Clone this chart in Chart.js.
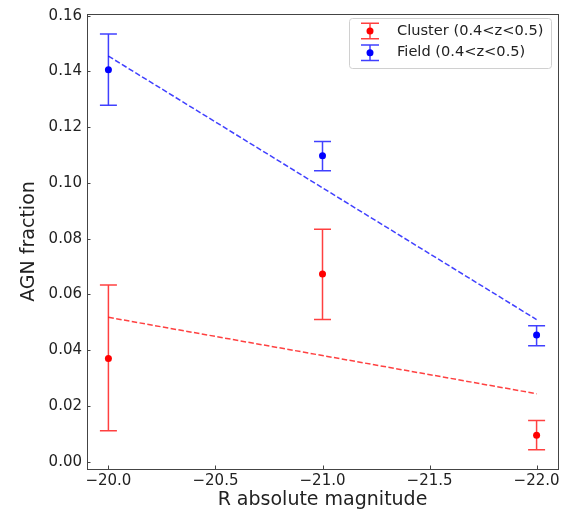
<!DOCTYPE html>
<html>
<head>
<meta charset="utf-8">
<script src="https://cdn.jsdelivr.net/npm/chart.js@4.4.0/dist/chart.umd.min.js"></script>
<style>
html, body { margin: 0; padding: 0; background: #fff; }
</style>
</head>
<body>
<canvas id="chart" width="575" height="513"></canvas>
<script>
// values
const magnitudes = [-20.0, -21.0, -22.0];

const clusterFrac = [0.0370, 0.0673, 0.0095];
const clusterLow  = [0.0111, 0.0510, 0.0043];
const clusterHigh = [0.0634, 0.0834, 0.0148];

const fieldFrac = [0.1406, 0.1098, 0.0455];
const fieldLow  = [0.1279, 0.1044, 0.0416];
const fieldHigh = [0.1534, 0.1149, 0.0488];

// fitted lines, at the two ends
const fitX = [-20.0, -22.0];
const clusterFit = [0.0518, 0.0244];
const fieldFit = [0.1455, 0.0510];

const xTicks = [-20.0, -20.5, -21.0, -21.5, -22.0];
const yTicks = [0.00, 0.02, 0.04, 0.06, 0.08, 0.10, 0.12, 0.14, 0.16];

const labels = ['Cluster (0.4<z<0.5)', 'Field (0.4<z<0.5)'];

const FONT = 'DejaVu Sans';
const TXT = '#222';
const SPINE = '#444';

function pts(xs, ys) {
    return xs.map((x, i) => ({ x: x, y: ys[i] }));
}

/* --- error bars, frame, inward ticks and legend --- */
const extras = {
    id: 'extras',
    beforeDatasetsDraw(chart) {
        const ctx = chart.ctx;
        const sx = chart.scales.x, sy = chart.scales.y;
        chart.data.datasets.forEach(ds => {
            if (!ds.errLow) return;
            ctx.save();
            ctx.strokeStyle = ds.errColor;
            ctx.lineWidth = 1.5;
            ds.data.forEach((p, j) => {
                const px = sx.getPixelForValue(p.x);
                const lo = sy.getPixelForValue(ds.errLow[j]);
                const hi = sy.getPixelForValue(ds.errHigh[j]);
                ctx.beginPath();
                ctx.moveTo(px, lo); ctx.lineTo(px, hi);
                ctx.moveTo(px - 8.5, lo); ctx.lineTo(px + 8.5, lo);
                ctx.moveTo(px - 8.5, hi); ctx.lineTo(px + 8.5, hi);
                ctx.stroke();
            });
            ctx.restore();
        });
    },
    afterDraw(chart) {
        const ctx = chart.ctx;
        const a = chart.chartArea;
        const sx = chart.scales.x, sy = chart.scales.y;
        ctx.save();
        ctx.strokeStyle = SPINE;
        ctx.lineWidth = 1;
        ctx.strokeRect(Math.round(a.left) + 0.5, Math.round(a.top) + 0.5,
                       Math.round(a.right - a.left), Math.round(a.bottom - a.top));
        ctx.beginPath();
        xTicks.forEach(v => {
            const px = Math.round(sx.getPixelForValue(v)) + 0.5;
            ctx.moveTo(px, a.bottom); ctx.lineTo(px, a.bottom - 3.5);
        });
        yTicks.forEach(v => {
            const py = Math.round(sy.getPixelForValue(v)) + 0.5;
            ctx.moveTo(a.left, py); ctx.lineTo(a.left + 3.5, py);
        });
        ctx.stroke();

        // legend
        const lx = 349.5, ly = 18.5, lw = 202, lh = 50, r = 3;
        ctx.beginPath();
        ctx.moveTo(lx + r, ly);
        ctx.arcTo(lx + lw, ly, lx + lw, ly + lh, r);
        ctx.arcTo(lx + lw, ly + lh, lx, ly + lh, r);
        ctx.arcTo(lx, ly + lh, lx, ly, r);
        ctx.arcTo(lx, ly, lx + lw, ly, r);
        ctx.closePath();
        ctx.fillStyle = 'rgba(255,255,255,0.8)';
        ctx.fill();
        ctx.strokeStyle = '#d0d0d0';
        ctx.stroke();

        const rows = [
            { y: 31, err: 'rgba(255,0,0,0.75)', dot: '#ff0000', text: labels[0] },
            { y: 52.7, err: 'rgba(0,0,255,0.75)', dot: '#0000ff', text: labels[1] }
        ];
        rows.forEach(row => {
            const cx = 370;
            ctx.strokeStyle = row.err;
            ctx.lineWidth = 1.5;
            ctx.beginPath();
            ctx.moveTo(cx, row.y - 7.8); ctx.lineTo(cx, row.y + 7.8);
            ctx.moveTo(cx - 9, row.y - 7.8); ctx.lineTo(cx + 9, row.y - 7.8);
            ctx.moveTo(cx - 9, row.y + 7.8); ctx.lineTo(cx + 9, row.y + 7.8);
            ctx.stroke();
            ctx.fillStyle = row.dot;
            ctx.beginPath();
            ctx.arc(cx, row.y, 3.5, 0, Math.PI * 2);
            ctx.fill();
            ctx.fillStyle = TXT;
            ctx.font = '14.6px "' + FONT + '"';
            ctx.textBaseline = 'middle';
            ctx.textAlign = 'left';
            ctx.fillText(row.text, 397, row.y);
        });
        ctx.restore();
    }
};

new Chart(document.getElementById('chart'), {
    type: 'scatter',
    data: {
        datasets: [
            {
                label: labels[0],
                data: pts(magnitudes, clusterFrac),
                errLow: clusterLow,
                errHigh: clusterHigh,
                errColor: 'rgba(255,0,0,0.75)',
                backgroundColor: '#ff0000',
                borderColor: '#ff0000',
                pointRadius: 3.5,
                borderWidth: 0,
                order: 1
            },
            {
                label: labels[1],
                data: pts(magnitudes, fieldFrac),
                errLow: fieldLow,
                errHigh: fieldHigh,
                errColor: 'rgba(0,0,255,0.75)',
                backgroundColor: '#0000ff',
                borderColor: '#0000ff',
                pointRadius: 3.5,
                borderWidth: 0,
                order: 1
            },
            {
                type: 'line',
                label: 'cluster fit',
                data: pts(fitX, clusterFit),
                borderColor: 'rgba(255,0,0,0.75)',
                borderWidth: 1.5,
                borderDash: [5.5, 2.4],
                pointRadius: 0,
                fill: false,
                order: 2
            },
            {
                type: 'line',
                label: 'field fit',
                data: pts(fitX, fieldFit),
                borderColor: 'rgba(0,0,255,0.75)',
                borderWidth: 1.5,
                borderDash: [5.5, 2.4],
                pointRadius: 0,
                fill: false,
                order: 2
            }
        ]
    },
    options: {
        responsive: false,
        animation: false,
        layout: { padding: { top: 12, right: 17, left: 0, bottom: 0 } },
        plugins: {
            legend: { display: false },
            tooltip: { enabled: false }
        },
        scales: {
            x: {
                type: 'linear',
                reverse: true,
                min: -22.1,
                max: -19.9,
                afterBuildTicks: s => { s.ticks = xTicks.map(v => ({ value: v })); },
                afterFit: s => { s.height = 44; },
                grid: { display: false, drawTicks: false },
                border: { display: false },
                ticks: {
                    autoSkip: false,
                    maxRotation: 0,
                    padding: 3,
                    color: TXT,
                    font: { family: FONT, size: 15 },
                    callback: v => v.toFixed(1).replace('-', '\u2212')
                },
                title: {
                    display: true,
                    text: 'R absolute magnitude',
                    color: TXT,
                    font: { family: FONT, size: 19 },
                    padding: { top: 0, bottom: 1.5 }
                }
            },
            y: {
                min: -0.0026,
                max: 0.1606,
                afterBuildTicks: s => { s.ticks = yTicks.map(v => ({ value: v })); },
                afterFit: s => { s.width = 87; },
                grid: { display: false, drawTicks: false },
                border: { display: false },
                ticks: {
                    autoSkip: false,
                    padding: 5,
                    color: TXT,
                    font: { family: FONT, size: 15 },
                    callback: v => v.toFixed(2)
                },
                title: {
                    display: true,
                    text: 'AGN fraction',
                    color: TXT,
                    font: { family: FONT, size: 19 },
                    padding: { top: 17.5, bottom: 0 }
                }
            }
        }
    },
    plugins: [extras]
});
</script>
</body>
</html>
